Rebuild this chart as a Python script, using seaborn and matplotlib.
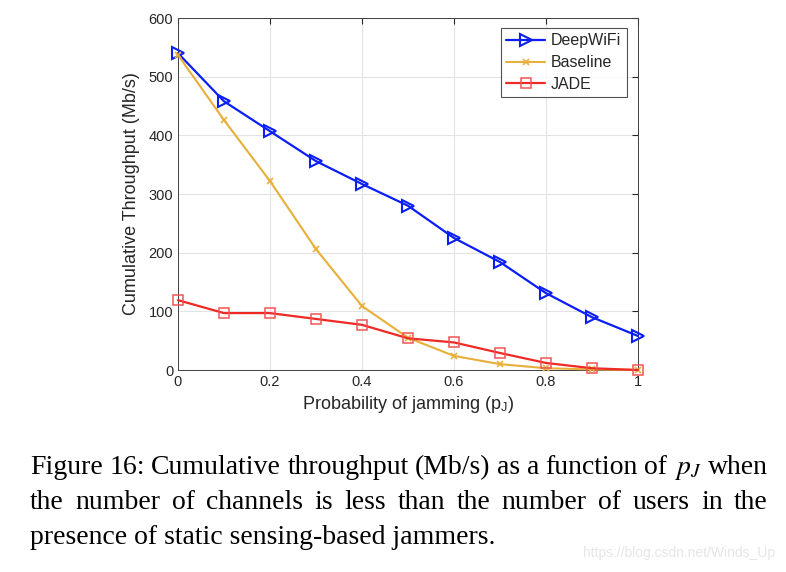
import matplotlib
matplotlib.use("Agg")
import matplotlib.pyplot as plt
import seaborn as sns
import pandas as pd

p_j = [0, 0.1, 0.2, 0.3, 0.4, 0.5, 0.6, 0.7, 0.8, 0.9, 1.0]
deepwifi = [540, 458, 407, 356, 317, 280, 225, 184, 131, 90, 58]
baseline = [537, 426, 322, 206, 109, 55, 24, 10, 3, 1, 0]
jade = [119, 97, 97, 87, 77, 54, 47, 29, 12, 3, 0]
series_names = ["DeepWiFi", "Baseline", "JADE"]
x_ticks = [0, 0.2, 0.4, 0.6, 0.8, 1.0]
x_ticklabels = ["0", "0.2", "0.4", "0.6", "0.8", "1"]
y_ticks = [0, 100, 200, 300, 400, 500, 600]

sns.set_style("white")
plt.rcParams['font.family'] = ['Liberation Sans', 'DejaVu Sans']
plt.rcParams['mathtext.fontset'] = 'stix'

fig = plt.figure(figsize=(7.86, 5.72), dpi=100)
ax = fig.add_axes([178/786, 1-370/572, 460/786, 352/572])

df = pd.DataFrame({"p": p_j * 3,
                   "val": deepwifi + baseline + jade,
                   "series": sum([[n]*len(p_j) for n in series_names], [])})

styles = {
    "DeepWiFi": dict(color="#0A1EF5", marker=">", markersize=9, mfc="none", mec="#0A1EF5", mew=1.5, lw=1.6),
    "Baseline": dict(color="#E8AF3A", marker="x", markersize=5, mec="#E8AF3A", mew=1.2, lw=1.5),
    "JADE": dict(color="#EE2A25", marker="s", markersize=7, mfc="none", mew=1.1, lw=1.6, mec="#F05555"),
}
for name in series_names:
    sub = df[df.series == name]
    sns.lineplot(data=sub, x="p", y="val", ax=ax, label=name, clip_on=False, zorder=3, **styles[name])

ax.set_xlim(0, 1)
ax.set_ylim(0, 600)
ax.set_xticks(x_ticks)
ax.set_xticklabels(x_ticklabels)
ax.set_yticks(y_ticks)
ax.grid(True, color="#E3E3E3", lw=0.8)
ax.tick_params(direction="in", length=4, labelsize=10.5, colors="#262626", top=True, right=True,
               labeltop=False, labelright=False)
for s in ax.spines.values():
    s.set_color("#404040")
    s.set_linewidth(0.7)
ax.set_xlabel("Probability of jamming (p$_\\mathregular{J}$)", fontsize=13, color="#262626", labelpad=4)
ax.set_ylabel("Cumulative Throughput (Mb/s)", fontsize=13, color="#262626", labelpad=6)

leg = ax.legend(loc="upper right", bbox_to_anchor=(0.976, 0.972), fontsize=11.5, frameon=True,
                fancybox=False, edgecolor="#262626", handlelength=2.4, borderpad=0.35,
                labelspacing=0.42, handletextpad=0.4, borderaxespad=0)
leg.get_frame().set_linewidth(0.8)
leg.set_zorder(5)

# caption, justified
cap_font = dict(family="Liberation Serif", fontsize=20, color="black")
lines = [
    ("Figure 16: Cumulative throughput (Mb/s) as a function of $p_J$ when", True, 468),
    ("the number of channels is less than the number of users in the", True, 503),
    ("presence of static sensing-based jammers.", False, 537),
]
left_px, right_px = 30, 768
fig.canvas.draw()
renderer = fig.canvas.get_renderer()
for text, justify, ypx in lines:
    words = text.split(" ")
    y = 1 - ypx/572
    if not justify:
        fig.text(left_px/786, y, text, va="center", ha="left", **cap_font)
        continue
    arts = [fig.text(0, y, w, va="baseline", ha="left", **cap_font) for w in words]
    widths = [a.get_window_extent(renderer).width for a in arts]
    gap = (right_px - left_px - sum(widths)) / (len(words) - 1)
    xpos = left_px
    for a, w in zip(arts, widths):
        a.set_x(xpos/786)
        a.set_y(1 - (ypx + 6)/572)
        xpos += w + gap

fig.text(775/786, 1-553/572, "https://blog.csdn.net/Winds_Up", ha="right", va="center",
         fontsize=10, color="#E6E6E6")

fig.savefig("out.png", dpi=100, facecolor="white")
